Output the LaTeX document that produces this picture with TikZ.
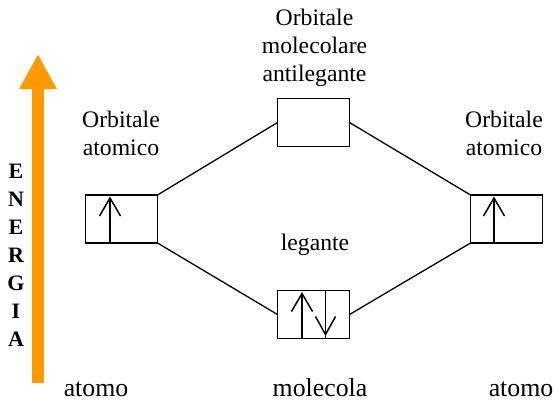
\documentclass[tikz,border=0pt]{standalone}
\usepackage{fontspec}
\setmainfont{Liberation Serif}
\newfontfamily\tnr{Liberation Serif}
\usetikzlibrary{arrows.meta}
\definecolor{energyorange}{RGB}{255,153,0}
\begin{document}
\begin{tikzpicture}[x=1pt,y=-1pt,
  orbbox/.style={draw,line width=1.5pt,minimum width=72pt,minimum height=48pt,inner sep=0pt,outer sep=0pt},
  conn/.style={line width=1.3pt},
  elline/.style={line width=1.5pt,line cap=butt,line join=miter},
  lbl/.style={font=\tnr\fontsize{23.7}{28}\selectfont,align=center,inner sep=0pt},
  blbl/.style={font=\tnr\fontsize{25.8}{30}\selectfont,inner sep=0pt,anchor=base},
  en/.style={font=\tnr\fontsize{22}{26}\selectfont\bfseries,inner sep=0pt}]
\useasboundingbox (0,0) rectangle (556,402);
% orbitals
\node[orbbox] (L) at (121.5,219) {};
\node[orbbox] (R) at (506.5,219) {};
\node[orbbox] (T) at (313.5,122.5) {};
\node[orbbox] (B) at (313.5,314.5) {};
% connectors
\draw[conn] (L.north east) -- (T.west);
\draw[conn] (T.east) -- (R.north west);
\draw[conn] (L.south east) -- (B.west);
\draw[conn] (B.east) -- (R.south west);
% divider in bonding box
\coordinate (Bdt) at ([xshift=12pt]B.north);
\coordinate (Bdb) at ([xshift=12pt]B.south);
\draw[elline] (Bdt) -- (Bdb);
% electron up arrows
\foreach \b/\dx in {L/-11.5,R/-12.5,B/-11.5}{
  \coordinate (\b tip) at ([xshift=\dx pt,yshift=-3pt]\b.north);
  \draw[elline] ([xshift=\dx pt]\b.south) -- (\b tip);
  \draw[elline] ([xshift=-10.5pt,yshift=-18pt]\b tip) -- (\b tip) -- ([xshift=10.5pt,yshift=-18pt]\b tip);
}
% electron down arrow
\coordinate (Bdtip) at ([yshift=4pt]Bdb);
\draw[elline] ([xshift=-10pt,yshift=18pt]Bdtip) -- (Bdtip) -- ([xshift=10pt,yshift=18pt]Bdtip);
% energy arrow
\coordinate (Ebot) at (38,383);
\coordinate (Etop) at (38,54);
\draw[energyorange,line width=12pt,-{Triangle[length=35pt,width=35pt]}] (Ebot) -- (Etop);
% ENERGIA
\foreach \ch [count=\i from 0] in {E,N,E,R,G,I,A}
  \node[en] (en\i) at (16,171+28*\i) {\ch};
% labels
\node[lbl] (tl) at (121,133) {Orbitale\\atomico};
\node[lbl] (tr) at (504,133) {Orbitale\\atomico};
\node[lbl] (tt) at (314.5,48) {Orbitale\\molecolare\\antilegante};
\node[lbl] (tb) at (315,244.5) {legante};
\node[blbl] (a1) at (96,396) {atomo};
\node[blbl] (m1) at (320,396) {molecola};
\node[blbl] (a2) at (521,396) {atomo};
\end{tikzpicture}
\end{document}
